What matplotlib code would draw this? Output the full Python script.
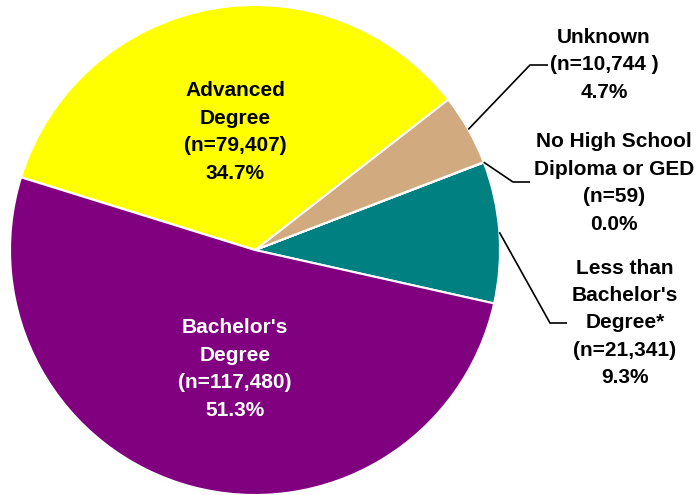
import numpy as np
import matplotlib.pyplot as plt

# data (counterclockwise order starting at the right)
labels = ["Less than\nBachelor's\nDegree*", "No High School\nDiploma or GED", "Unknown",
          "Advanced\nDegree", "Bachelor's\nDegree"]
counts = [21341, 59, 10744, 79407, 117480]
count_txt = ["(n=21,341)", "(n=59)", "(n=10,744 )", "(n=79,407)", "(n=117,480)"]
pct_txt = ["9.3%", "0.0%", "4.7%", "34.7%", "51.3%"]
colors = ["#008080", "#D2AA7F", "#D2AA7F", "#FFFF00", "#800080"]

plt.rcParams['font.family'] = ['Liberation Sans', 'DejaVu Sans']

W, H = 696, 495
fig = plt.figure(figsize=(W / 100, H / 100), dpi=100)
ax = fig.add_axes([0, 0, 1, 1])

cx, cy, R = 255, H - 250, 245
wedges, _ = ax.pie(counts, colors=colors, startangle=-12.6, counterclock=True,
                   center=(cx, cy), radius=R, frame=True,
                   wedgeprops=dict(edgecolor='white', linewidth=1.5))

ax.set_xlim(0, W)
ax.set_ylim(0, H)
ax.set_aspect('equal')
ax.axis('off')

FS = 15
LS = 1.56

def full(i):
    return labels[i] + "\n" + count_txt[i] + "\n" + pct_txt[i]

# inside labels
ax.text(235, H - 132, full(3), ha='center', va='center', fontsize=FS,
        fontweight='bold', color='black', linespacing=LS)
ax.text(235, H - 369, full(4), ha='center', va='center', fontsize=FS,
        fontweight='bold', color='white', linespacing=LS)

# outside labels with leader lines: (elbow x, elbow y, end x, text x, text y)
outside = {
    2: (530, 65, 548, 604, 65),
    1: (513, 182, 530, 614, 183),
    0: (550, 323, 567, 625, 323),
}
for i, (ex, ey, endx, tx, ty) in outside.items():
    w = wedges[i]
    mid = np.deg2rad((w.theta1 + w.theta2) / 2)
    sx = cx + R * np.cos(mid)
    sy = cy + R * np.sin(mid)
    ax.plot([sx, ex, endx], [sy, H - ey, H - ey], color='black', lw=1.2,
            solid_capstyle='butt')
    ax.text(tx, H - ty, full(i), ha='center', va='center', fontsize=FS,
            fontweight='bold', color='black', linespacing=LS)

fig.savefig('out.png', dpi=100)
